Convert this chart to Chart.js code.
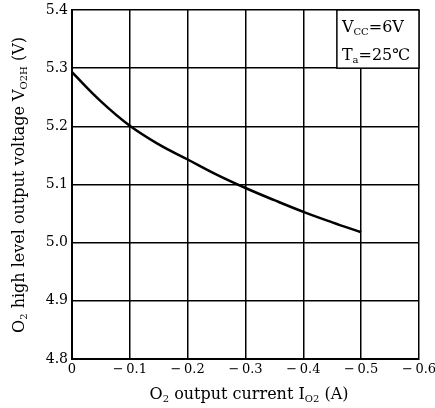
<!DOCTYPE html>
<html><head><meta charset="utf-8">
<script src="https://cdn.jsdelivr.net/npm/chart.js@4"></script>
<style>html,body{margin:0;padding:0;background:#fff}#c{display:block}</style>
</head><body>
<div style="width:435px;height:408px"><canvas id="c" width="435" height="408"></canvas></div>
<script>
const currents = [0, -0.05, -0.1, -0.15, -0.2, -0.25, -0.3, -0.35, -0.4, -0.45, -0.5];
const voltages = [5.293, 5.243, 5.201, 5.169, 5.143, 5.117, 5.094, 5.073, 5.053, 5.035, 5.018];
const xTicks = [0, -0.1, -0.2, -0.3, -0.4, -0.5, -0.6];
const yTicks = [4.8, 4.9, 5.0, 5.1, 5.2, 5.3, 5.4];

const SERIF = '"DejaVu Serif", "Liberation Serif", serif';

function drawSub(ctx, parts, x, y, align, size) {
  const big = size + 'px ' + SERIF, small = Math.round(size * 0.62) + 'px ' + SERIF;
  let w = 0;
  parts.forEach(p => { ctx.font = p[1] ? small : big; w += ctx.measureText(p[0]).width; });
  let cx = align === 'center' ? x - w / 2 : (align === 'right' ? x - w : x);
  ctx.textAlign = 'left'; ctx.textBaseline = 'alphabetic';
  parts.forEach(p => {
    ctx.font = p[1] ? small : big;
    ctx.fillText(p[0], cx, y + (p[1] ? Math.round(size * 0.2) : 0));
    cx += ctx.measureText(p[0]).width;
  });
}

const annot = {
  id: 'annot',
  afterDraw(chart) {
    const ctx = chart.ctx, a = chart.chartArea;
    ctx.save();
    ctx.fillStyle = '#000';
    drawSub(ctx, [['O', 0], ['2', 1], [' output current I', 0], ['O2', 1], [' (A)', 0]], 249, 399, 'center', 16);
    ctx.save();
    ctx.translate(24, 185);
    ctx.rotate(-Math.PI / 2);
    drawSub(ctx, [['O', 0], ['2', 1], [' high level output voltage V', 0], ['O2H', 1], [' (V)', 0]], 0, 0, 'center', 16);
    ctx.restore();
    const ys = chart.scales.y, xs = chart.scales.x;
    const bx = xs.getPixelForValue(-0.458), by = a.top, bb = ys.getPixelForValue(5.3);
    ctx.fillStyle = '#fff';
    ctx.fillRect(bx, by, a.right - bx, bb - by);
    ctx.strokeStyle = '#000'; ctx.lineWidth = 1.5;
    ctx.strokeRect(bx, by, a.right - bx, bb - by);
    ctx.fillStyle = '#000';
    drawSub(ctx, [['V', 0], ['CC', 1], ['=6V', 0]], bx + 5, by + 22, 'left', 16);
    drawSub(ctx, [['T', 0], ['a', 1], ['=25℃', 0]], bx + 5, by + 50, 'left', 16);
    ctx.restore();
  }
};

new Chart(document.getElementById('c'), {
  type: 'line',
  data: {
    datasets: [{
      data: currents.map((c, i) => ({ x: c, y: voltages[i] })),
      borderColor: '#000', borderWidth: 2.5, pointRadius: 0,
      tension: 0.4, fill: false
    }]
  },
  options: {
    responsive: false, animation: false, devicePixelRatio: 1,
    layout: { padding: { top: 10, right: 16, left: 0, bottom: 0 } },
    plugins: { legend: { display: false }, tooltip: { enabled: false } },
    scales: {
      x: {
        type: 'linear', min: -0.6, max: 0, reverse: true,
        afterBuildTicks: s => { s.ticks = xTicks.map(v => ({ value: v })); },
        afterFit: s => { s.height = 49; s.paddingLeft = 0; s.paddingRight = 0; },
        grid: { color: '#000', lineWidth: 1.5, drawTicks: false },
        border: { color: '#000', width: 2 },
        ticks: {
          color: '#000', padding: 3, maxRotation: 0,
          font: { family: SERIF, size: 13 },
          callback: v => v === 0 ? '0' : '\u2212\u2009' + Math.abs(v).toFixed(1)
        }
      },
      y: {
        type: 'linear', min: 4.8, max: 5.4,
        afterBuildTicks: s => { s.ticks = yTicks.map(v => ({ value: v })); },
        afterFit: s => { s.width = 72; s.paddingTop = 0; s.paddingBottom = 0; },
        grid: { color: '#000', lineWidth: 1.5, drawTicks: false },
        border: { color: '#000', width: 2 },
        ticks: {
          color: '#000', padding: 4,
          font: { family: SERIF, size: 14 },
          callback: v => v.toFixed(1)
        }
      }
    }
  },
  plugins: [annot]
});
</script>
</body></html>
